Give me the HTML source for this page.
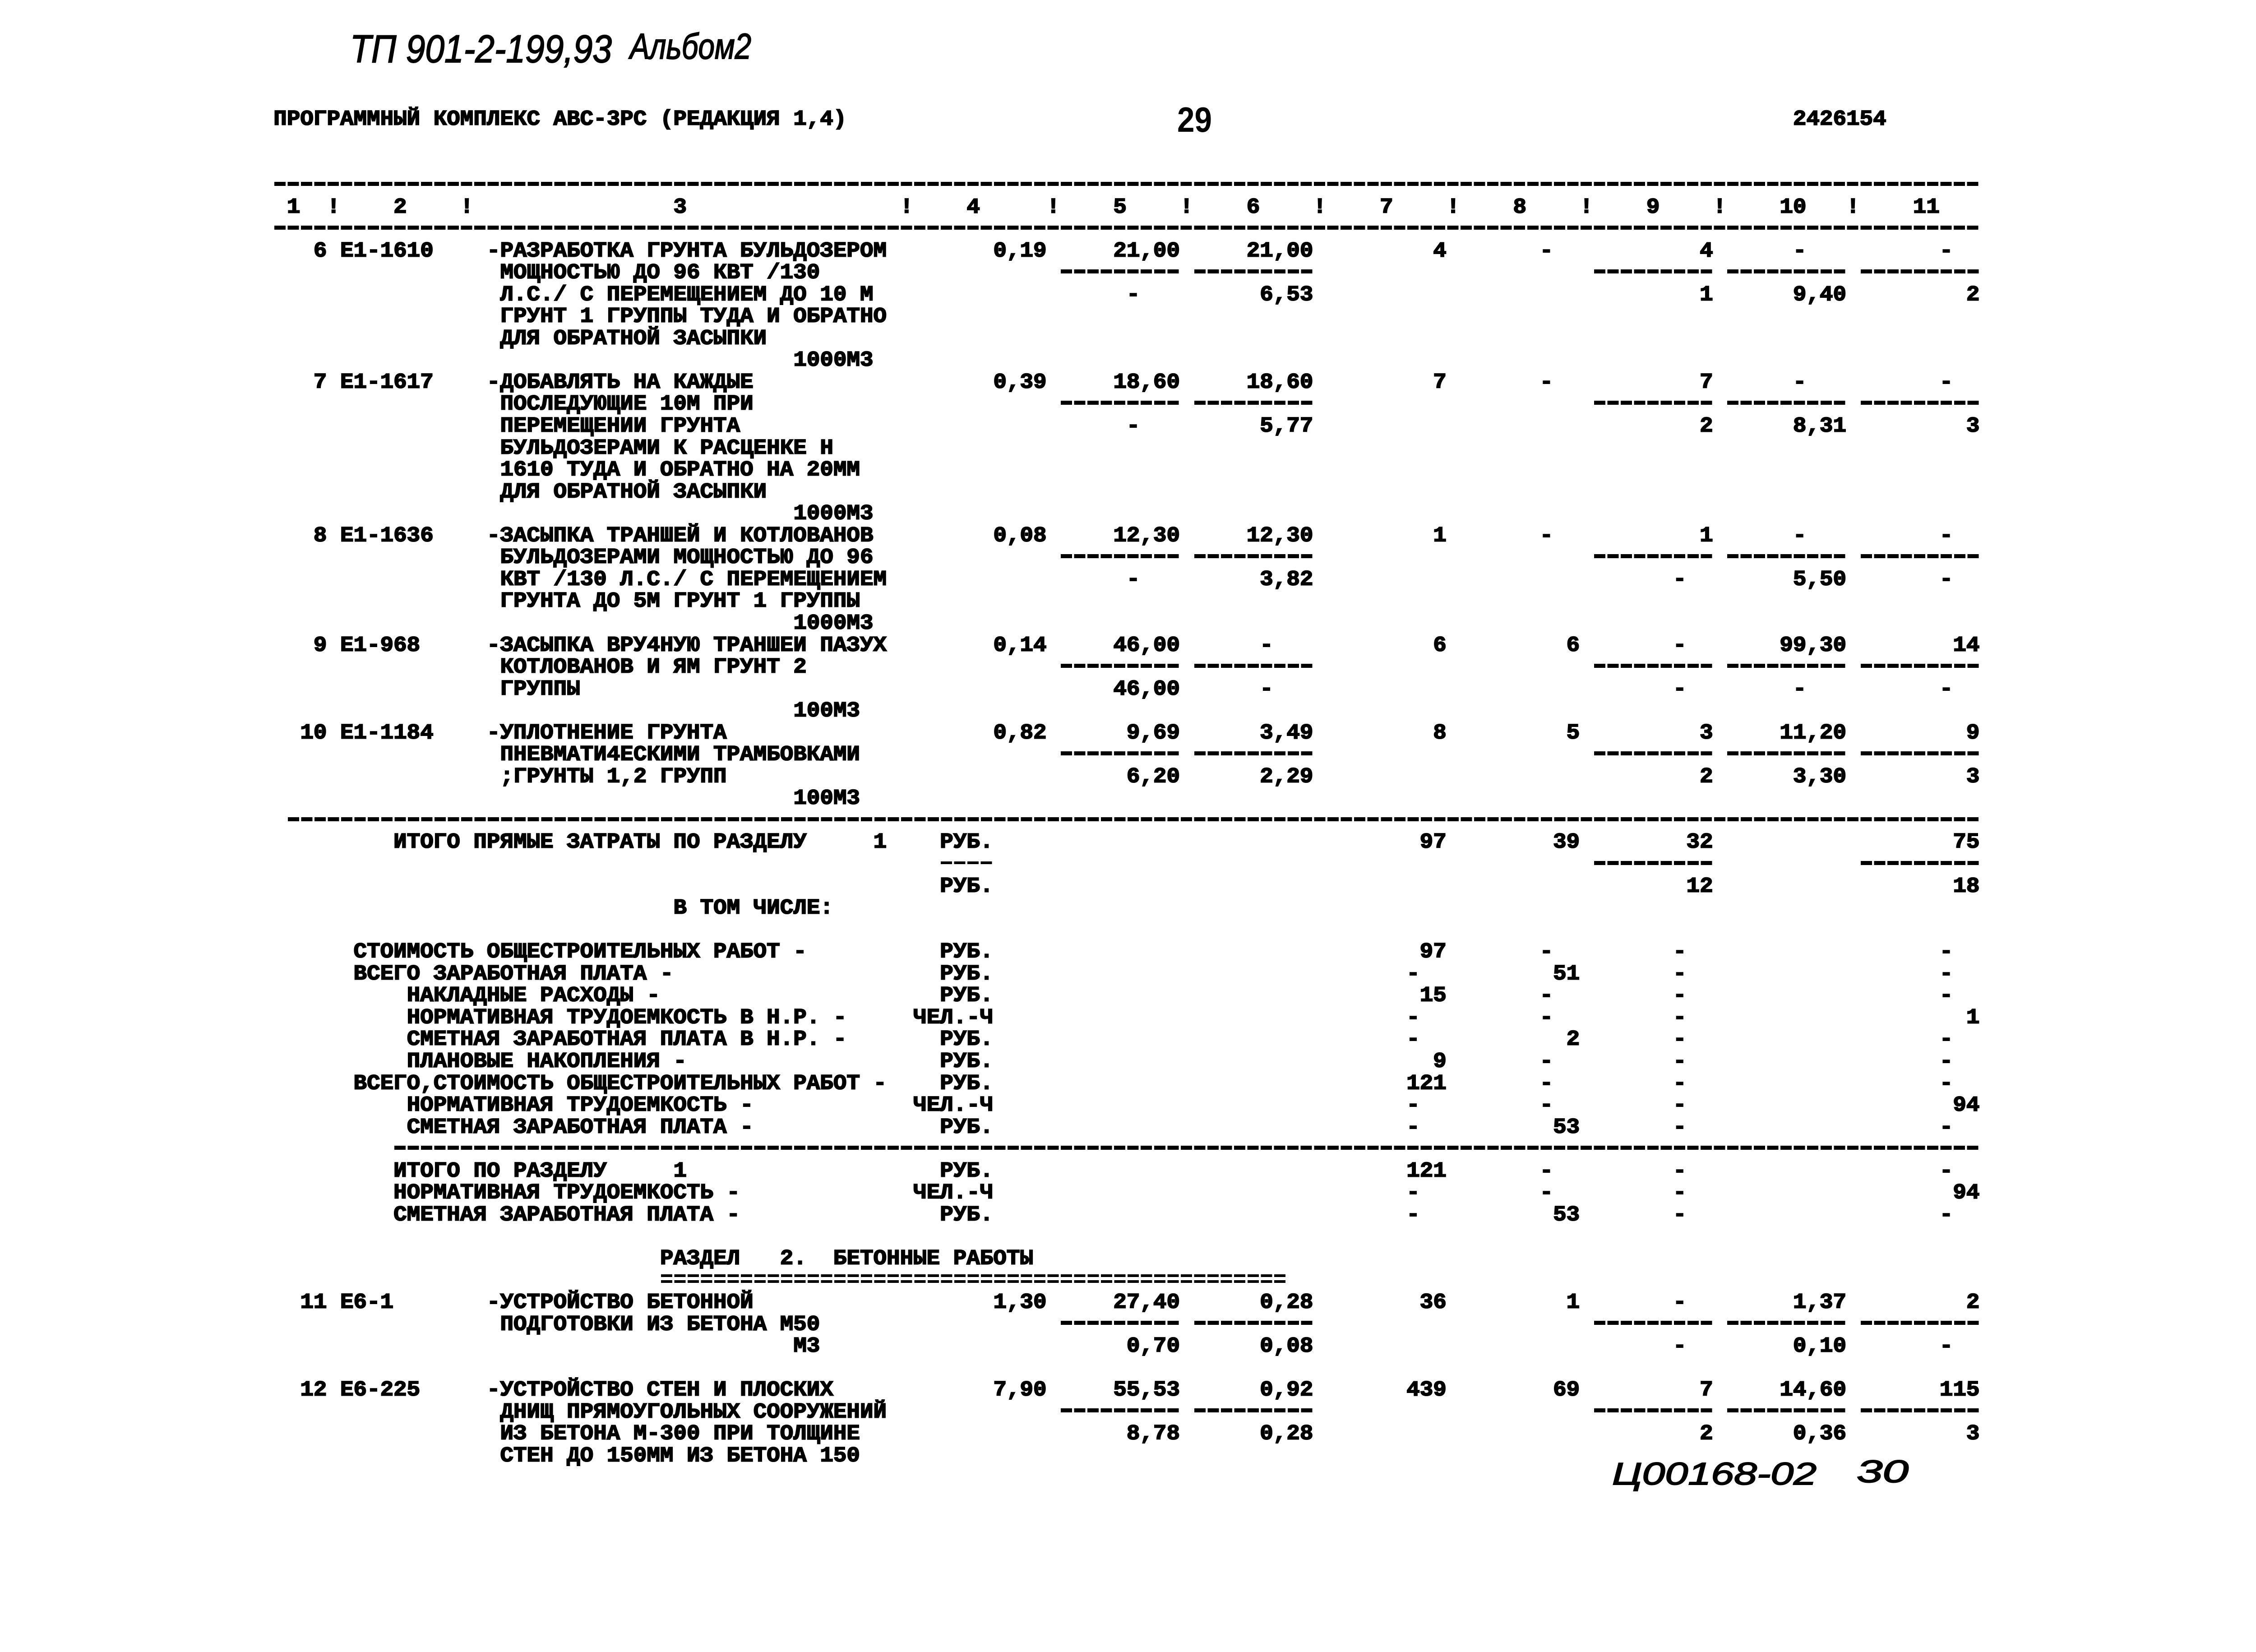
<!DOCTYPE html>
<html><head><meta charset="utf-8">
<style>
html,body{margin:0;padding:0;background:#fff}
body{width:5079px;height:3661px;position:relative;overflow:hidden}
.t{position:absolute;left:calc(606.3px + var(--i)*29.54px);top:calc(531.6px + var(--n)*48.55px);font:bold 49.23px/48.5px "Liberation Mono","DejaVu Sans Mono",monospace;white-space:pre;color:#000;-webkit-text-stroke:2.2px #000;transform:scaleY(.96);transform-origin:0 21.1px}
.r{position:absolute;left:calc(606.3px + var(--i)*29.54px);width:calc(var(--w)*29.54px);top:calc(548.2px + var(--n)*48.55px);height:9px;background:repeating-linear-gradient(90deg,#000 0 25px,transparent 25px 29.54px);background-position:2px 0}
.th{height:6px;top:calc(549.7px + var(--n)*48.55px)}
svg{position:absolute;left:0;top:0}
</style></head><body>

<svg width="5079" height="3661" xmlns="http://www.w3.org/2000/svg">
<g font-family="Liberation Sans, sans-serif" font-style="italic" fill="#000" stroke="#000" stroke-width="2">
<text x="776" y="138" font-size="86" textLength="580" lengthAdjust="spacingAndGlyphs">ТП 901-2-199,93</text>
<text x="1396" y="130" font-size="80" textLength="269" lengthAdjust="spacingAndGlyphs">Альбом2</text>
<text x="3573" y="3290" font-size="70" textLength="453" lengthAdjust="spacingAndGlyphs">Ц00168-02</text>
<text x="4115" y="3285" font-size="70" textLength="115" lengthAdjust="spacingAndGlyphs">30</text>
</g>
<text x="2609" y="292" font-family="Liberation Sans, sans-serif" font-weight="bold" font-size="78" textLength="77" lengthAdjust="spacingAndGlyphs" fill="#000">29</text>
</svg>

<!-- page header -->
<div class="t" style="--i:0;--n:-6">ПРОГРАММНЫЙ КОМПЛЕКС АВС-3РС (РЕДАКЦИЯ 1,4)</div>
<div class="t" style="--i:114;--n:-6">2426154</div>

<!-- table header -->
<div class="r" style="--i:0;--w:128;--n:-3"></div>
<div class="t" style="--i:1;--n:-2">1</div>
<div class="t" style="--i:4;--n:-2">!</div>
<div class="t" style="--i:9;--n:-2">2</div>
<div class="t" style="--i:14;--n:-2">!</div>
<div class="t" style="--i:30;--n:-2">3</div>
<div class="t" style="--i:47;--n:-2">!</div>
<div class="t" style="--i:52;--n:-2">4</div>
<div class="t" style="--i:58;--n:-2">!</div>
<div class="t" style="--i:63;--n:-2">5</div>
<div class="t" style="--i:68;--n:-2">!</div>
<div class="t" style="--i:73;--n:-2">6</div>
<div class="t" style="--i:78;--n:-2">!</div>
<div class="t" style="--i:83;--n:-2">7</div>
<div class="t" style="--i:88;--n:-2">!</div>
<div class="t" style="--i:93;--n:-2">8</div>
<div class="t" style="--i:98;--n:-2">!</div>
<div class="t" style="--i:103;--n:-2">9</div>
<div class="t" style="--i:108;--n:-2">!</div>
<div class="t" style="--i:113;--n:-2">10</div>
<div class="t" style="--i:118;--n:-2">!</div>
<div class="t" style="--i:123;--n:-2">11</div>
<div class="r" style="--i:0;--w:128;--n:-1"></div>

<!-- row 6 -->
<div class="t" style="--i:3;--n:0">6</div>
<div class="t" style="--i:5;--n:0">Е1-1610</div>
<div class="t" style="--i:16;--n:0">-РАЗРАБОТКА ГРУНТА БУЛЬДОЗЕРОМ</div>
<div class="t" style="--i:54;--n:0">0,19</div>
<div class="t" style="--i:63;--n:0">21,00</div>
<div class="t" style="--i:73;--n:0">21,00</div>
<div class="t" style="--i:87;--n:0">4</div>
<div class="t" style="--i:95;--n:0">-</div>
<div class="t" style="--i:107;--n:0">4</div>
<div class="t" style="--i:114;--n:0">-</div>
<div class="t" style="--i:125;--n:0">-</div>
<div class="t" style="--i:17;--n:1">МОЩНОСТЬЮ ДО 96 КВТ /130</div>
<div class="r" style="--i:59;--w:9;--n:1"></div>
<div class="r" style="--i:69;--w:9;--n:1"></div>
<div class="r" style="--i:99;--w:9;--n:1"></div>
<div class="r" style="--i:109;--w:9;--n:1"></div>
<div class="r" style="--i:119;--w:9;--n:1"></div>
<div class="t" style="--i:17;--n:2">Л.С./ С ПЕРЕМЕЩЕНИЕМ ДО 10 М</div>
<div class="t" style="--i:64;--n:2">-</div>
<div class="t" style="--i:74;--n:2">6,53</div>
<div class="t" style="--i:107;--n:2">1</div>
<div class="t" style="--i:114;--n:2">9,40</div>
<div class="t" style="--i:127;--n:2">2</div>
<div class="t" style="--i:17;--n:3">ГРУНТ 1 ГРУППЫ ТУДА И ОБРАТНО</div>
<div class="t" style="--i:17;--n:4">ДЛЯ ОБРАТНОЙ ЗАСЫПКИ</div>
<div class="t" style="--i:39;--n:5">1000М3</div>

<!-- row 7 -->
<div class="t" style="--i:3;--n:6">7</div>
<div class="t" style="--i:5;--n:6">Е1-1617</div>
<div class="t" style="--i:16;--n:6">-ДОБАВЛЯТЬ НА КАЖДЫЕ</div>
<div class="t" style="--i:54;--n:6">0,39</div>
<div class="t" style="--i:63;--n:6">18,60</div>
<div class="t" style="--i:73;--n:6">18,60</div>
<div class="t" style="--i:87;--n:6">7</div>
<div class="t" style="--i:95;--n:6">-</div>
<div class="t" style="--i:107;--n:6">7</div>
<div class="t" style="--i:114;--n:6">-</div>
<div class="t" style="--i:125;--n:6">-</div>
<div class="t" style="--i:17;--n:7">ПОСЛЕДУЮЩИЕ 10М ПРИ</div>
<div class="r" style="--i:59;--w:9;--n:7"></div>
<div class="r" style="--i:69;--w:9;--n:7"></div>
<div class="r" style="--i:99;--w:9;--n:7"></div>
<div class="r" style="--i:109;--w:9;--n:7"></div>
<div class="r" style="--i:119;--w:9;--n:7"></div>
<div class="t" style="--i:17;--n:8">ПЕРЕМЕЩЕНИИ ГРУНТА</div>
<div class="t" style="--i:64;--n:8">-</div>
<div class="t" style="--i:74;--n:8">5,77</div>
<div class="t" style="--i:107;--n:8">2</div>
<div class="t" style="--i:114;--n:8">8,31</div>
<div class="t" style="--i:127;--n:8">3</div>
<div class="t" style="--i:17;--n:9">БУЛЬДОЗЕРАМИ К РАСЦЕНКЕ Н</div>
<div class="t" style="--i:17;--n:10">1610 ТУДА И ОБРАТНО НА 20ММ</div>
<div class="t" style="--i:17;--n:11">ДЛЯ ОБРАТНОЙ ЗАСЫПКИ</div>
<div class="t" style="--i:39;--n:12">1000М3</div>

<!-- row 8 -->
<div class="t" style="--i:3;--n:13">8</div>
<div class="t" style="--i:5;--n:13">Е1-1636</div>
<div class="t" style="--i:16;--n:13">-ЗАСЫПКА ТРАНШЕЙ И КОТЛОВАНОВ</div>
<div class="t" style="--i:54;--n:13">0,08</div>
<div class="t" style="--i:63;--n:13">12,30</div>
<div class="t" style="--i:73;--n:13">12,30</div>
<div class="t" style="--i:87;--n:13">1</div>
<div class="t" style="--i:95;--n:13">-</div>
<div class="t" style="--i:107;--n:13">1</div>
<div class="t" style="--i:114;--n:13">-</div>
<div class="t" style="--i:125;--n:13">-</div>
<div class="t" style="--i:17;--n:14">БУЛЬДОЗЕРАМИ МОЩНОСТЬЮ ДО 96</div>
<div class="r" style="--i:59;--w:9;--n:14"></div>
<div class="r" style="--i:69;--w:9;--n:14"></div>
<div class="r" style="--i:99;--w:9;--n:14"></div>
<div class="r" style="--i:109;--w:9;--n:14"></div>
<div class="r" style="--i:119;--w:9;--n:14"></div>
<div class="t" style="--i:17;--n:15">КВТ /130 Л.С./ С ПЕРЕМЕЩЕНИЕМ</div>
<div class="t" style="--i:64;--n:15">-</div>
<div class="t" style="--i:74;--n:15">3,82</div>
<div class="t" style="--i:105;--n:15">-</div>
<div class="t" style="--i:114;--n:15">5,50</div>
<div class="t" style="--i:125;--n:15">-</div>
<div class="t" style="--i:17;--n:16">ГРУНТА ДО 5М ГРУНТ 1 ГРУППЫ</div>
<div class="t" style="--i:39;--n:17">1000М3</div>

<!-- row 9 -->
<div class="t" style="--i:3;--n:18">9</div>
<div class="t" style="--i:5;--n:18">Е1-968</div>
<div class="t" style="--i:16;--n:18">-ЗАСЫПКА ВРУ4НУЮ ТРАНШЕИ ПАЗУХ</div>
<div class="t" style="--i:54;--n:18">0,14</div>
<div class="t" style="--i:63;--n:18">46,00</div>
<div class="t" style="--i:74;--n:18">-</div>
<div class="t" style="--i:87;--n:18">6</div>
<div class="t" style="--i:97;--n:18">6</div>
<div class="t" style="--i:105;--n:18">-</div>
<div class="t" style="--i:113;--n:18">99,30</div>
<div class="t" style="--i:126;--n:18">14</div>
<div class="t" style="--i:17;--n:19">КОТЛОВАНОВ И ЯМ ГРУНТ 2</div>
<div class="r" style="--i:59;--w:9;--n:19"></div>
<div class="r" style="--i:69;--w:9;--n:19"></div>
<div class="r" style="--i:99;--w:9;--n:19"></div>
<div class="r" style="--i:109;--w:9;--n:19"></div>
<div class="r" style="--i:119;--w:9;--n:19"></div>
<div class="t" style="--i:17;--n:20">ГРУППЫ</div>
<div class="t" style="--i:63;--n:20">46,00</div>
<div class="t" style="--i:74;--n:20">-</div>
<div class="t" style="--i:105;--n:20">-</div>
<div class="t" style="--i:114;--n:20">-</div>
<div class="t" style="--i:125;--n:20">-</div>
<div class="t" style="--i:39;--n:21">100М3</div>

<!-- row 10 -->
<div class="t" style="--i:2;--n:22">10</div>
<div class="t" style="--i:5;--n:22">Е1-1184</div>
<div class="t" style="--i:16;--n:22">-УПЛОТНЕНИЕ ГРУНТА</div>
<div class="t" style="--i:54;--n:22">0,82</div>
<div class="t" style="--i:64;--n:22">9,69</div>
<div class="t" style="--i:74;--n:22">3,49</div>
<div class="t" style="--i:87;--n:22">8</div>
<div class="t" style="--i:97;--n:22">5</div>
<div class="t" style="--i:107;--n:22">3</div>
<div class="t" style="--i:113;--n:22">11,20</div>
<div class="t" style="--i:127;--n:22">9</div>
<div class="t" style="--i:17;--n:23">ПНЕВМАТИ4ЕСКИМИ ТРАМБОВКАМИ</div>
<div class="r" style="--i:59;--w:9;--n:23"></div>
<div class="r" style="--i:69;--w:9;--n:23"></div>
<div class="r" style="--i:99;--w:9;--n:23"></div>
<div class="r" style="--i:109;--w:9;--n:23"></div>
<div class="r" style="--i:119;--w:9;--n:23"></div>
<div class="t" style="--i:17;--n:24">;ГРУНТЫ 1,2 ГРУПП</div>
<div class="t" style="--i:64;--n:24">6,20</div>
<div class="t" style="--i:74;--n:24">2,29</div>
<div class="t" style="--i:107;--n:24">2</div>
<div class="t" style="--i:114;--n:24">3,30</div>
<div class="t" style="--i:127;--n:24">3</div>
<div class="t" style="--i:39;--n:25">100М3</div>
<div class="r" style="--i:1;--w:127;--n:26"></div>

<!-- totals -->
<div class="t" style="--i:9;--n:27">ИТОГО ПРЯМЫЕ ЗАТРАТЫ ПО РАЗДЕЛУ</div>
<div class="t" style="--i:45;--n:27">1</div>
<div class="t" style="--i:50;--n:27">РУБ.</div>
<div class="t" style="--i:86;--n:27">97</div>
<div class="t" style="--i:96;--n:27">39</div>
<div class="t" style="--i:106;--n:27">32</div>
<div class="t" style="--i:126;--n:27">75</div>
<div class="r th" style="--i:50;--w:4;--n:28"></div>
<div class="r" style="--i:99;--w:9;--n:28"></div>
<div class="r" style="--i:119;--w:9;--n:28"></div>
<div class="t" style="--i:50;--n:29">РУБ.</div>
<div class="t" style="--i:106;--n:29">12</div>
<div class="t" style="--i:126;--n:29">18</div>
<div class="t" style="--i:30;--n:30">В ТОМ ЧИСЛЕ:</div>

<div class="t" style="--i:6;--n:32">СТОИМОСТЬ ОБЩЕСТРОИТЕЛЬНЫХ РАБОТ -</div>
<div class="t" style="--i:50;--n:32">РУБ.</div>
<div class="t" style="--i:86;--n:32">97</div>
<div class="t" style="--i:95;--n:32">-</div>
<div class="t" style="--i:105;--n:32">-</div>
<div class="t" style="--i:125;--n:32">-</div>

<div class="t" style="--i:6;--n:33">ВСЕГО ЗАРАБОТНАЯ ПЛАТА -</div>
<div class="t" style="--i:50;--n:33">РУБ.</div>
<div class="t" style="--i:85;--n:33">-</div>
<div class="t" style="--i:96;--n:33">51</div>
<div class="t" style="--i:105;--n:33">-</div>
<div class="t" style="--i:125;--n:33">-</div>

<div class="t" style="--i:10;--n:34">НАКЛАДНЫЕ РАСХОДЫ -</div>
<div class="t" style="--i:50;--n:34">РУБ.</div>
<div class="t" style="--i:86;--n:34">15</div>
<div class="t" style="--i:95;--n:34">-</div>
<div class="t" style="--i:105;--n:34">-</div>
<div class="t" style="--i:125;--n:34">-</div>

<div class="t" style="--i:10;--n:35">НОРМАТИВНАЯ ТРУДОЕМКОСТЬ В Н.Р. -</div>
<div class="t" style="--i:48;--n:35">ЧЕЛ.-Ч</div>
<div class="t" style="--i:85;--n:35">-</div>
<div class="t" style="--i:95;--n:35">-</div>
<div class="t" style="--i:105;--n:35">-</div>
<div class="t" style="--i:127;--n:35">1</div>

<div class="t" style="--i:10;--n:36">СМЕТНАЯ ЗАРАБОТНАЯ ПЛАТА В Н.Р. -</div>
<div class="t" style="--i:50;--n:36">РУБ.</div>
<div class="t" style="--i:85;--n:36">-</div>
<div class="t" style="--i:97;--n:36">2</div>
<div class="t" style="--i:105;--n:36">-</div>
<div class="t" style="--i:125;--n:36">-</div>

<div class="t" style="--i:10;--n:37">ПЛАНОВЫЕ НАКОПЛЕНИЯ -</div>
<div class="t" style="--i:50;--n:37">РУБ.</div>
<div class="t" style="--i:87;--n:37">9</div>
<div class="t" style="--i:95;--n:37">-</div>
<div class="t" style="--i:105;--n:37">-</div>
<div class="t" style="--i:125;--n:37">-</div>

<div class="t" style="--i:6;--n:38">ВСЕГО,СТОИМОСТЬ ОБЩЕСТРОИТЕЛЬНЫХ РАБОТ -</div>
<div class="t" style="--i:50;--n:38">РУБ.</div>
<div class="t" style="--i:85;--n:38">121</div>
<div class="t" style="--i:95;--n:38">-</div>
<div class="t" style="--i:105;--n:38">-</div>
<div class="t" style="--i:125;--n:38">-</div>

<div class="t" style="--i:10;--n:39">НОРМАТИВНАЯ ТРУДОЕМКОСТЬ -</div>
<div class="t" style="--i:48;--n:39">ЧЕЛ.-Ч</div>
<div class="t" style="--i:85;--n:39">-</div>
<div class="t" style="--i:95;--n:39">-</div>
<div class="t" style="--i:105;--n:39">-</div>
<div class="t" style="--i:126;--n:39">94</div>

<div class="t" style="--i:10;--n:40">СМЕТНАЯ ЗАРАБОТНАЯ ПЛАТА -</div>
<div class="t" style="--i:50;--n:40">РУБ.</div>
<div class="t" style="--i:85;--n:40">-</div>
<div class="t" style="--i:96;--n:40">53</div>
<div class="t" style="--i:105;--n:40">-</div>
<div class="t" style="--i:125;--n:40">-</div>

<div class="r" style="--i:9;--w:119;--n:41"></div>

<div class="t" style="--i:9;--n:42">ИТОГО ПО РАЗДЕЛУ</div>
<div class="t" style="--i:30;--n:42">1</div>
<div class="t" style="--i:50;--n:42">РУБ.</div>
<div class="t" style="--i:85;--n:42">121</div>
<div class="t" style="--i:95;--n:42">-</div>
<div class="t" style="--i:105;--n:42">-</div>
<div class="t" style="--i:125;--n:42">-</div>

<div class="t" style="--i:9;--n:43">НОРМАТИВНАЯ ТРУДОЕМКОСТЬ -</div>
<div class="t" style="--i:48;--n:43">ЧЕЛ.-Ч</div>
<div class="t" style="--i:85;--n:43">-</div>
<div class="t" style="--i:95;--n:43">-</div>
<div class="t" style="--i:105;--n:43">-</div>
<div class="t" style="--i:126;--n:43">94</div>

<div class="t" style="--i:9;--n:44">СМЕТНАЯ ЗАРАБОТНАЯ ПЛАТА -</div>
<div class="t" style="--i:50;--n:44">РУБ.</div>
<div class="t" style="--i:85;--n:44">-</div>
<div class="t" style="--i:96;--n:44">53</div>
<div class="t" style="--i:105;--n:44">-</div>
<div class="t" style="--i:125;--n:44">-</div>

<!-- section 2 -->
<div class="t" style="--i:29;--n:46">РАЗДЕЛ   2.  БЕТОННЫЕ РАБОТЫ</div>
<div class="r" style="--i:29;--w:47;top:2824px;height:6px"></div>
<div class="r" style="--i:29;--w:47;top:2837px;height:6px"></div>

<div class="t" style="--i:2;--n:48">11</div>
<div class="t" style="--i:5;--n:48">Е6-1</div>
<div class="t" style="--i:16;--n:48">-УСТРОЙСТВО БЕТОННОЙ</div>
<div class="t" style="--i:54;--n:48">1,30</div>
<div class="t" style="--i:63;--n:48">27,40</div>
<div class="t" style="--i:74;--n:48">0,28</div>
<div class="t" style="--i:86;--n:48">36</div>
<div class="t" style="--i:97;--n:48">1</div>
<div class="t" style="--i:105;--n:48">-</div>
<div class="t" style="--i:114;--n:48">1,37</div>
<div class="t" style="--i:127;--n:48">2</div>
<div class="t" style="--i:17;--n:49">ПОДГОТОВКИ ИЗ БЕТОНА М50</div>
<div class="r" style="--i:59;--w:9;--n:49"></div>
<div class="r" style="--i:69;--w:9;--n:49"></div>
<div class="r" style="--i:99;--w:9;--n:49"></div>
<div class="r" style="--i:109;--w:9;--n:49"></div>
<div class="r" style="--i:119;--w:9;--n:49"></div>
<div class="t" style="--i:39;--n:50">М3</div>
<div class="t" style="--i:64;--n:50">0,70</div>
<div class="t" style="--i:74;--n:50">0,08</div>
<div class="t" style="--i:105;--n:50">-</div>
<div class="t" style="--i:114;--n:50">0,10</div>
<div class="t" style="--i:125;--n:50">-</div>

<div class="t" style="--i:2;--n:52">12</div>
<div class="t" style="--i:5;--n:52">Е6-225</div>
<div class="t" style="--i:16;--n:52">-УСТРОЙСТВО СТЕН И ПЛОСКИХ</div>
<div class="t" style="--i:54;--n:52">7,90</div>
<div class="t" style="--i:63;--n:52">55,53</div>
<div class="t" style="--i:74;--n:52">0,92</div>
<div class="t" style="--i:85;--n:52">439</div>
<div class="t" style="--i:96;--n:52">69</div>
<div class="t" style="--i:107;--n:52">7</div>
<div class="t" style="--i:113;--n:52">14,60</div>
<div class="t" style="--i:125;--n:52">115</div>
<div class="t" style="--i:17;--n:53">ДНИЩ ПРЯМОУГОЛЬНЫХ СООРУЖЕНИЙ</div>
<div class="r" style="--i:59;--w:9;--n:53"></div>
<div class="r" style="--i:69;--w:9;--n:53"></div>
<div class="r" style="--i:99;--w:9;--n:53"></div>
<div class="r" style="--i:109;--w:9;--n:53"></div>
<div class="r" style="--i:119;--w:9;--n:53"></div>
<div class="t" style="--i:17;--n:54">ИЗ БЕТОНА М-300 ПРИ ТОЛЩИНЕ</div>
<div class="t" style="--i:64;--n:54">8,78</div>
<div class="t" style="--i:74;--n:54">0,28</div>
<div class="t" style="--i:107;--n:54">2</div>
<div class="t" style="--i:114;--n:54">0,36</div>
<div class="t" style="--i:127;--n:54">3</div>
<div class="t" style="--i:17;--n:55">СТЕН ДО 150ММ ИЗ БЕТОНА 150</div>

</body></html>
